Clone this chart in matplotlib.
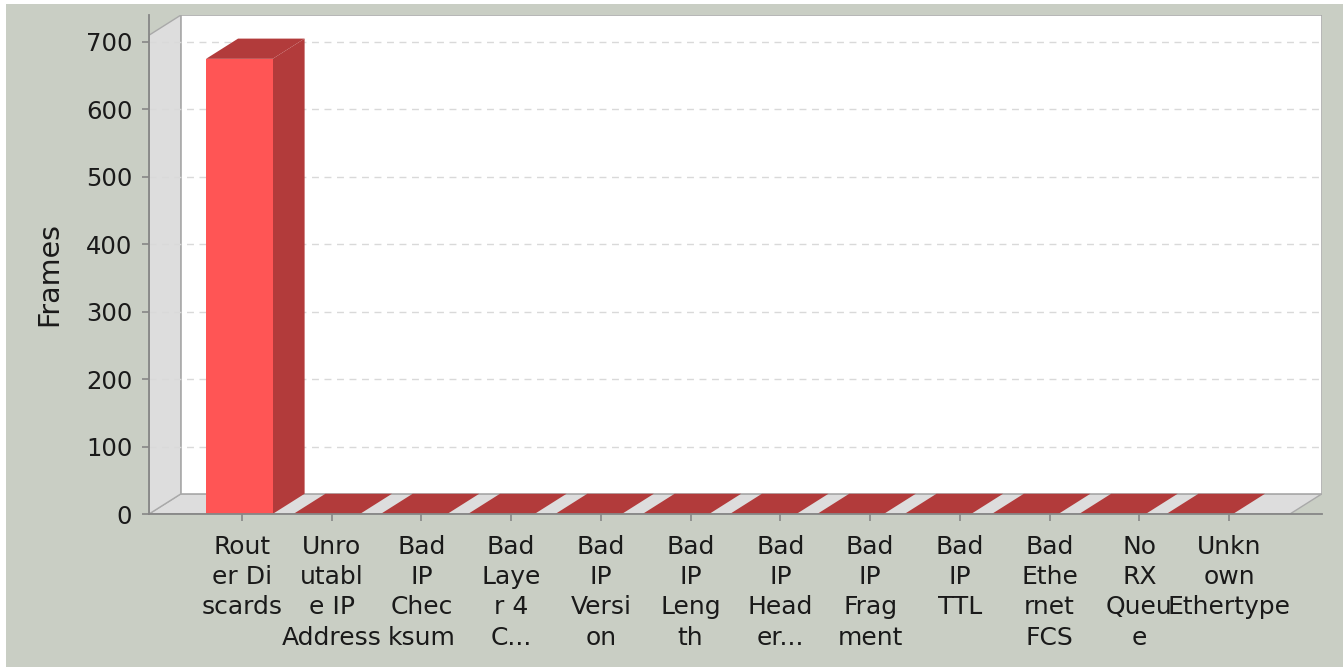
import numpy as np
import matplotlib.pyplot as plt
from matplotlib.patches import Polygon, Rectangle

# ---------------------------------------------------------------
# data
# ---------------------------------------------------------------
categories = [
    "Rout\ner Di\nscards",
    "Unro\nutabl\ne IP\nAddress",
    "Bad\nIP\nChec\nksum",
    "Bad\nLaye\nr 4\nC...",
    "Bad\nIP\nVersi\non",
    "Bad\nIP\nLeng\nth",
    "Bad\nIP\nHead\ner...",
    "Bad\nIP\nFrag\nment",
    "Bad\nIP\nTTL",
    "Bad\nEthe\nrnet\nFCS",
    "No\nRX\nQueu\ne",
    "Unkn\nown\nEthertype",
]
frames = [675, 0, 0, 0, 0, 0, 0, 0, 0, 0, 0, 0]
y_ticks = [0, 100, 200, 300, 400, 500, 600, 700]

# ---------------------------------------------------------------
# style
# ---------------------------------------------------------------
BG = "#c9cec4"
FRONT = "#ff5555"
DARK = "#b23b3b"
WALL = "#dddddd"
EDGE = "#a9a9a9"
AXIS = "#868686"
TXT = "#1a1a1a"

LOWER, UPPER, CAT_MARGIN = 0.05, 0.05, 0.20
DEPTH_Y = 30.0          # value units
Y_TOP = 740.0           # axes top (back wall)
DEPTH_FRAC = 32 / 1173  # share of axis width taken by depth

n = len(categories)


def layout(x0, width):
    """category left edges and width in an axis span (JFreeChart style)"""
    cw = width * (1 - LOWER - UPPER - CAT_MARGIN) / n
    gap = width * CAT_MARGIN / (n - 1)
    lefts = x0 + width * LOWER + np.arange(n) * (cw + gap)
    return lefts, cw


# full width in units where tick spacing is 1
W = 1.0 / ((1 - LOWER - UPPER - CAT_MARGIN) / n + CAT_MARGIN / (n - 1))
cw_full = W * (1 - LOWER - UPPER - CAT_MARGIN) / n
xmin = -(W * LOWER + cw_full / 2)
xmax = xmin + W
dx = W * DEPTH_FRAC
dy = DEPTH_Y

fig = plt.figure(figsize=(13.43, 6.69), dpi=100)
fig.patch.set_facecolor("white")
fig.patches.append(Rectangle((6 / 1343, 2 / 669), 1 - 6 / 1343, 1 - 6 / 669,
                             transform=fig.transFigure, facecolor=BG,
                             edgecolor="none", zorder=-10))

ax = fig.add_axes([149 / 1343, (669 - 514) / 669, 1173 / 1343, 499 / 669])
ax.set_facecolor("none")
ax.set_xlim(xmin, xmax)
ax.set_ylim(0, Y_TOP)

# walls and floor
ax.add_patch(Polygon([(xmin, 0), (xmin + dx, dy), (xmax, dy), (xmax - dx, 0)],
                     closed=True, facecolor=WALL, edgecolor=EDGE, lw=1, zorder=0.5))
ax.add_patch(Polygon([(xmin, 0), (xmin + dx, dy), (xmin + dx, Y_TOP), (xmin, Y_TOP - dy)],
                     closed=True, facecolor=WALL, edgecolor=EDGE, lw=1, zorder=0.5))
ax.add_patch(Rectangle((xmin + dx, dy), xmax - xmin - dx, Y_TOP - dy,
                       facecolor="white", edgecolor=EDGE, lw=1.2, zorder=0.6))

# gridlines
for v in y_ticks[1:]:
    ax.axhline(v, color="#d9d9d9", lw=1.0, ls=(0, (5, 4)), zorder=1)

# 3d bars
lefts, cw = layout(xmin, W - dx)
for x0, v in zip(lefts, frames):
    x1 = x0 + cw
    side = [(x1, 0), (x1 + dx, dy), (x1 + dx, v + dy), (x1, v)]
    top = [(x0, v), (x0 + dx, v + dy), (x1 + dx, v + dy), (x1, v)]
    ax.add_patch(Polygon(side, closed=True, facecolor=DARK, edgecolor="none", zorder=2))
    ax.add_patch(Polygon(top, closed=True, facecolor=DARK, edgecolor="none", zorder=2))
    if v > 0:
        ax.add_patch(Rectangle((x0, 0), cw, v, facecolor=FRONT, edgecolor="none", zorder=3))

# axes
for s in ("top", "right"):
    ax.spines[s].set_visible(False)
for s in ("left", "bottom"):
    ax.spines[s].set_color(AXIS)
    ax.spines[s].set_linewidth(1.3)
    ax.spines[s].set_zorder(5)

ax.set_yticks(y_ticks)
ax.set_yticklabels([str(v) for v in y_ticks])
ax.set_xticks(range(n))
ax.set_xticklabels(categories, linespacing=1.33, va="top", ha="center")
ax.tick_params(axis="y", length=5, width=1.2, color=AXIS, pad=7,
               labelsize=17.5, labelcolor=TXT)
ax.tick_params(axis="x", length=5, width=1.2, color=AXIS, pad=10,
               labelsize=18, labelcolor=TXT)

ax.set_ylabel("Frames", fontsize=20.5, color=TXT)
ax.yaxis.set_label_coords(-0.0733, 0.48)

fig.savefig("out.png", dpi=100, facecolor=fig.get_facecolor())
